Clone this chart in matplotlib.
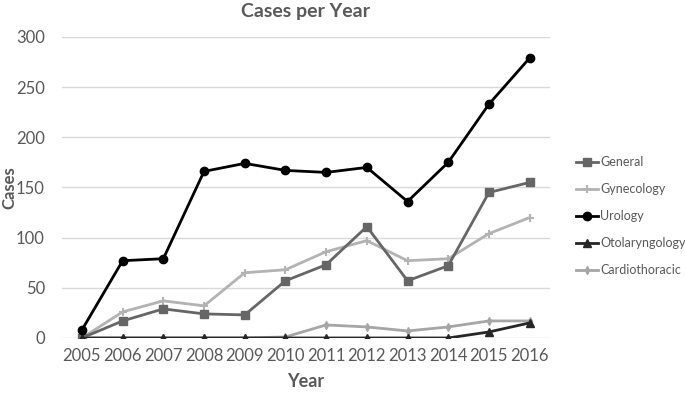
import matplotlib.pyplot as plt

years = [2005, 2006, 2007, 2008, 2009, 2010, 2011, 2012, 2013, 2014, 2015, 2016]
general = [0, 17, 29, 24, 23, 57, 73, 111, 57, 72, 145, 155]
gynecology = [0, 26, 37, 32, 65, 68, 86, 97, 77, 79, 104, 120]
urology = [8, 77, 79, 166, 174, 167, 165, 170, 136, 175, 233, 279]
otolaryngology = [0, 0, 0, 0, 0, 0, 0, 0, 0, 0, 6, 15]
cardiothoracic = [0, 0, 0, 0, 0, 1, 13, 11, 7, 11, 17, 17]

plt.rcParams['font.family'] = ['Lato', 'DejaVu Sans']
txt = '#595959'

fig = plt.figure(figsize=(6.85, 3.93), dpi=100)
ax = fig.add_axes([0.0899, 0.140, 0.713, 0.766])

# 线条按图例顺序绘制（底层先画）
ax.plot(years, general, color='#666666', lw=2, marker='s', ms=6, label='General', zorder=3)
ax.plot(years, gynecology, color='#b3b3b3', lw=2, marker='+', ms=6, mew=1.5, label='Gynecology', zorder=2)
ax.plot(years, urology, color='black', lw=2, marker='o', ms=6, label='Urology', zorder=5)
ax.plot(years, otolaryngology, color='#262626', lw=2, marker='^', ms=6, label='Otolaryngology', zorder=4)
ax.plot(years, cardiothoracic, color='#a6a6a6', lw=2, marker='d', ms=4, label='Cardiothoracic', zorder=3)

ax.set_xlim(2004.5, 2016.5)
ax.set_ylim(0, 300)
ax.set_xticks(years)
ax.set_yticks(range(0, 301, 50))
ax.grid(axis='y', color='#d9d9d9', lw=1)
ax.set_axisbelow(True)
for s in ['top', 'right', 'left', 'bottom']:
    ax.spines[s].set_visible(False)
ax.tick_params(length=0, labelsize=12, colors=txt, pad=7)
ax.tick_params(axis='y', pad=12)

ax.set_title('Cases per Year', fontsize=14, fontweight='bold', color=txt, pad=14)
ax.set_xlabel('Year', fontsize=13, fontweight='bold', color=txt, labelpad=7)
ax.set_ylabel('Cases', fontsize=12, fontweight='bold', color=txt)
ax.yaxis.set_label_coords(-0.09, 0.5)

leg = ax.legend(loc='center left', bbox_to_anchor=(1.03, 0.405), frameon=False,
                fontsize=9, handlelength=1.8, handletextpad=0.15, labelspacing=1.2,
                labelcolor=txt)

fig.savefig('out.png', dpi=100)
